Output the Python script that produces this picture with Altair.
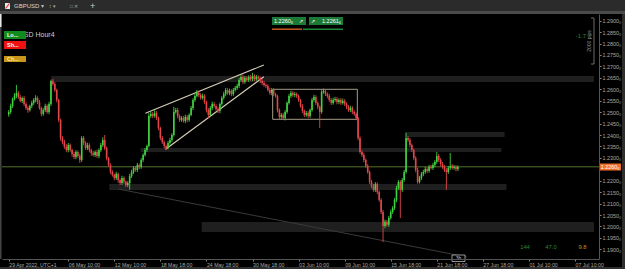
import altair as alt
import pandas as pd

# ---------------- data ----------------
BASE = 1.2
FIRST_OPEN = 490  # pips above 1.2000
CLOSE_PIPS = [
    501, 527, 558, 571, 584, 566, 549, 562, 536, 518, 509, 527, 540, 553, 562, 544, 518, 492, 509, 527,
    501, 536, 636, 623, 597, 553, 466, 387, 369, 348, 334, 356, 334, 317, 304, 326, 308, 291, 387, 365,
    343, 356, 334, 321, 313, 326, 308, 334, 356, 378, 343, 299, 269, 238, 225, 212, 230, 203, 190, 212,
    195, 181, 190, 221, 238, 256, 247, 269, 260, 291, 313, 334, 352, 483, 492, 483, 496, 474, 431, 387,
    369, 352, 343, 365, 378, 400, 501, 509, 483, 466, 474, 461, 479, 466, 488, 518, 553, 571, 584, 575,
    562, 571, 544, 509, 488, 518, 536, 527, 514, 505, 536, 562, 579, 597, 584, 593, 579, 597, 606, 614,
    641, 654, 632, 649, 641, 654, 645, 658, 645, 654, 649, 636, 628, 619, 614, 597, 584, 597, 579, 571,
    509, 479, 488, 474, 501, 540, 571, 584, 575, 579, 571, 553, 527, 505, 488, 496, 483, 509, 553, 566,
    540, 523, 501, 588, 593, 579, 571, 553, 540, 553, 558, 544, 553, 540, 549, 536, 523, 509, 518, 501,
    492, 474, 387, 326, 313, 291, 265, 238, 195, 177, 160, 186, 151, 116, 63, 2, 20, 7, 37, 63,
    81, 116, 168, 195, 160, 203, 238, 387, 378, 356, 334, 299, 247, 195, 212, 230, 238, 251, 243, 260,
    256, 269, 282, 308, 291, 273, 260, 247, 238, 256, 265, 256, 260, 251, 260,
]
WICK_UP = [
    8, 10, 6, 12, 35, 8, 10, 6, 9, 7, 8, 6, 10, 8, 12, 7, 9, 6, 8, 10,
    7, 9, 6, 10, 8, 6, 5, 6, 8, 10, 12, 9, 7, 6, 9, 8, 6, 10, 8, 9,
    7, 10, 8, 6, 9, 7, 10, 8, 9, 12, 22, 6, 5, 7, 8, 6, 9, 5, 6, 10,
    7, 6, 8, 9, 10, 7, 8, 9, 6, 8, 7, 9, 6, 13, 10, 8, 12, 9, 6, 5,
    8, 7, 6, 9, 10, 8, 22, 9, 10, 7, 8, 9, 10, 8, 7, 9, 8, 10, 13, 9,
    8, 10, 7, 6, 8, 9, 10, 8, 7, 9, 6, 8, 10, 9, 8, 10, 7, 9, 8, 10,
    9, 8, 10, 9, 8, 7, 9, 14, 8, 9, 7, 6, 8, 9, 7, 8, 10, 9, 8, 6,
    5, 7, 8, 9, 8, 7, 9, 10, 8, 9, 7, 6, 5, 8, 7, 9, 8, 7, 9, 10,
    8, 7, 6, 9, 10, 8, 7, 9, 8, 10, 9, 8, 7, 9, 10, 8, 7, 8, 9, 8,
    7, 6, 5, 8, 7, 9, 6, 8, 7, 9, 10, 8, 7, 6, 8, 9, 10, 8, 9, 10,
    8, 9, 10, 8, 7, 9, 10, 22, 8, 9, 7, 6, 8, 10, 9, 8, 10, 9, 8, 9,
    10, 9, 8, 18, 9, 8, 10, 9, 8, 9, 56, 8, 9, 8, 7,
]
WICK_DN = [
    10, 8, 9, 7, 10, 8, 6, 9, 10, 8, 12, 7, 9, 8, 10, 9, 7, 10, 8, 9,
    8, 10, 9, 7, 8, 10, 9, 12, 10, 8, 9, 10, 8, 12, 9, 10, 8, 13, 9, 10,
    8, 9, 10, 12, 7, 9, 8, 10, 9, 8, 9, 10, 8, 9, 7, 10, 8, 12, 9, 8,
    10, 9, 8, 30, 9, 8, 7, 9, 10, 8, 9, 7, 8, 6, 8, 9, 7, 8, 10, 9,
    8, 10, 9, 4, 8, 9, 7, 8, 10, 9, 8, 7, 9, 10, 8, 6, 9, 8, 7, 9,
    8, 7, 9, 10, 14, 8, 9, 7, 8, 9, 10, 8, 7, 9, 8, 10, 9, 8, 7, 9,
    8, 9, 10, 8, 7, 9, 8, 10, 9, 7, 8, 9, 10, 8, 9, 7, 8, 10, 9, 8,
    10, 13, 8, 9, 10, 8, 7, 9, 8, 10, 9, 8, 7, 9, 10, 8, 9, 8, 7, 8,
    9, 10, 70, 8, 7, 9, 10, 8, 9, 7, 8, 10, 9, 8, 7, 9, 10, 8, 9, 10,
    8, 9, 10, 8, 9, 10, 8, 7, 9, 10, 8, 9, 10, 8, 9, 70, 10, 8, 9, 7,
    8, 9, 10, 8, 123, 9, 8, 7, 9, 10, 8, 9, 10, 8, 7, 9, 10, 8, 9, 8,
    7, 9, 10, 8, 9, 10, 8, 9, 78, 8, 9, 7, 8, 10, 9,
]

TICK_IDX = [0, 31, 55, 79, 103, 127, 151, 175, 199, 223, 247, 271, 295]
TICK_LABELS = ["29 Apr 2022, UTC+1", "06 May 10:00", "12 May 10:00", "18 May 18:00",
               "24 May 18:00", "30 May 18:00", "03 Jun 10:00", "09 Jun 10:00",
               "15 Jun 18:00", "21 Jun 18:00", "27 Jun 18:00", "01 Jul 10:00", "07 Jul 10:00"]
# 1.2250 is hidden behind the current-price tag in the reference
PRICE_TICKS = [1.1900, 1.1950, 1.2000, 1.2050, 1.2100, 1.2150, 1.2200, 1.2300, 1.2350,
               1.2400, 1.2450, 1.2500, 1.2550, 1.2600, 1.2650, 1.2700, 1.2750, 1.2800, 1.2850, 1.2900]
CURRENT_PRICE = 1.22608

ZONE_START = [22.1, 68.7, 206.5, 52.4, 100.5]
ZONE_END = [304.9, 256.7, 258.3, 259.3, 304.9]
ZONE_TOP = [1.26581, 1.23431, 1.24131, 1.21856, 1.20194]
ZONE_BOTTOM = [1.26318, 1.23256, 1.23913, 1.21594, 1.19757]

WEDGE_X1 = [71.2, 81.7]
WEDGE_Y1 = [1.24949, 1.23374]
WEDGE_X2 = [132.9, 132.9]
WEDGE_Y2 = [1.27062, 1.26550]

BOX_X = [137.5, 181.6]
BOX_Y = [1.24687, 1.25999]

TREND_X = [57.0, 238.8]
TREND_Y = [1.21638, 1.18663]

# ---------------- build table ----------------
rows = []
prev = FIRST_OPEN
for i, c in enumerate(CLOSE_PIPS):
    o = prev
    hi = max(o, c) + WICK_UP[i]
    lo = min(o, c) - WICK_DN[i]
    rows.append({"i": i, "open": BASE + o / 1e4, "close": BASE + c / 1e4,
                 "high": BASE + hi / 1e4, "low": BASE + lo / 1e4,
                 "dir": "up" if c >= o else "down"})
    prev = c
df = pd.DataFrame(rows)

GREEN = "#41d141"
RED = "#e2464b"
X_SCALE = alt.Scale(domain=[-0.91, 304.9], nice=False, zero=False)
Y_SCALE = alt.Scale(domain=[1.18576, 1.29293], nice=False, zero=False)
FONT = "Liberation Sans"

label_expr = ("[" + ",".join("'%s'" % s for s in TICK_LABELS) + "][indexof(["
              + ",".join(str(v) for v in TICK_IDX) + "], datum.value)]")

x_axis = alt.Axis(values=TICK_IDX, labelExpr=label_expr, orient="bottom", labelAlign="left",
                  labelBaseline="top", labelPadding=1, tickSize=2, labelFontSize=5.2, labelFont=FONT,
                  labelColor="#a8a8a8", domainColor="#555555", tickColor="#8a8a8a", grid=False,
                  labelOverlap=False, labelFlush=False, title=None, zindex=1)
y_axis = alt.Axis(values=PRICE_TICKS, labelExpr="format(datum.value, '.4f') + '\u2080'", orient="right",
                  labelFontSize=5.4, labelFont=FONT, labelColor="#a8a8a8", domainColor="#555555",
                  tickColor="#8a8a8a", tickSize=2, labelPadding=1, grid=False, labelOverlap=False,
                  labelFlush=False, title=None, zindex=1)


def XQ(field):
    return alt.X(field, type="quantitative", scale=X_SCALE, axis=x_axis)


def YQ(field):
    return alt.Y(field, type="quantitative", scale=Y_SCALE, axis=y_axis)


color_enc = alt.Color("dir:N", scale=alt.Scale(domain=["up", "down"], range=[GREEN, RED]), legend=None)

zones_df = pd.DataFrame({"x1": ZONE_START, "x2": ZONE_END, "y1": ZONE_TOP, "y2": ZONE_BOTTOM})
zones = alt.Chart(zones_df).mark_rect(color="#1f1f1f", clip=True).encode(
    x=XQ("x1"), x2="x2:Q", y=YQ("y1"), y2="y2:Q")

trend_df = pd.DataFrame({"x1": [TREND_X[0]], "x2": [TREND_X[1]], "y1": [TREND_Y[0]], "y2": [TREND_Y[1]]})
trend = alt.Chart(trend_df).mark_rule(color="#3a3a3a", strokeWidth=1).encode(
    x=XQ("x1"), x2="x2:Q", y=YQ("y1"), y2="y2:Q")

wedge_df = pd.DataFrame({"x1": WEDGE_X1, "x2": WEDGE_X2, "y1": WEDGE_Y1, "y2": WEDGE_Y2})
wedge = alt.Chart(wedge_df).mark_rule(color="#d6ceb6", strokeWidth=1.1).encode(
    x=XQ("x1"), x2="x2:Q", y=YQ("y1"), y2="y2:Q")

box_df = pd.DataFrame({"x1": [BOX_X[0]], "x2": [BOX_X[1]], "y1": [BOX_Y[0]], "y2": [BOX_Y[1]]})
box = alt.Chart(box_df).mark_rect(fillOpacity=0, stroke="#a59d88", strokeWidth=1).encode(
    x=XQ("x1"), x2="x2:Q", y=YQ("y1"), y2="y2:Q")

price_line = alt.Chart(pd.DataFrame({"p": [CURRENT_PRICE]})).mark_rule(
    color="#55702c", strokeWidth=1).encode(y=YQ("p"))

wicks = alt.Chart(df).mark_rule(strokeWidth=0.9).encode(
    x=XQ("i"), y=YQ("low"), y2="high:Q", color=color_enc)
bodies = alt.Chart(df).mark_bar(size=1.6).encode(
    x=XQ("i"), y=YQ("open"), y2="close:Q", color=color_enc)

# ---------------- terminal decoration (pixel positions) ----------------
OX, OY = 2, 14
ONE = pd.DataFrame({"k": [0]})


def ui_rect(x1, y1, x2, y2, fill, stroke=None):
    if stroke:
        m = alt.Chart(ONE).mark_rect(fill=fill, stroke=stroke, strokeWidth=0.8)
    else:
        m = alt.Chart(ONE).mark_rect(fill=fill)
    return m.encode(x=alt.value(x1 - OX), x2=alt.value(x2 - OX), y=alt.value(y1 - OY), y2=alt.value(y2 - OY))


def ui_line(x1, y1, x2, y2, color, w=1.0):
    return alt.Chart(ONE).mark_rule(color=color, strokeWidth=w).encode(
        x=alt.value(x1 - OX), x2=alt.value(x2 - OX), y=alt.value(y1 - OY), y2=alt.value(y2 - OY))


def ui_text(t, x, y, color, size, align="left", angle=0, weight="normal"):
    kw = dict(text=t, color=color, fontSize=size, align=align, baseline="middle", font=FONT, fontWeight=weight)
    if angle:
        kw["angle"] = angle
    return alt.Chart(ONE).mark_text(**kw).encode(x=alt.value(x - OX), y=alt.value(y - OY))


ui = [
    ui_rect(0, 0, 625, 11, "#2b2b2b"),
    ui_rect(0, 11, 625, 14, "#4a4a4a"),
    ui_rect(0, 14, 1.5, 259, "#444444"),
    ui_rect(0, 14, 1.5, 27, "#e6e6e6"),
    ui_rect(622, 14, 625, 269, "#2e2e2e"),
    ui_rect(0, 267, 625, 269, "#2e2e2e"),
    ui_rect(5, 3, 10, 9, "#e8e8e8"),
    ui_line(5.5, 8.5, 9.5, 3.5, "#e03030", 1.2),
    ui_text("GBPUSD", 14, 6, "#d6d6d6", 6),
    ui_text("\u25be", 41, 6, "#bbbbbb", 6),
    ui_text("\u2195 \u25be", 49, 6, "#aaaaaa", 5),
    ui_text("\u25a1 \u2715", 70, 6, "#aaaaaa", 5),
    ui_text("+", 90, 6, "#cccccc", 9),
    ui_text("GBPUSD Hour4", 4, 35, "#cfcfcf", 7),
    ui_rect(4, 31, 26, 39, "#118a1e"),
    ui_rect(4, 41, 26, 49, "#f01212"),
    ui_rect(4, 56, 26, 62, "#c8961a"),
    ui_text("Lo...", 7, 35, "#ffffff", 5.5, weight="bold"),
    ui_text("Sh...", 7, 45, "#ffffff", 5.5, weight="bold"),
    ui_text("Ch...", 7, 59, "#f6e7b0", 5.5, weight="bold"),
    ui_rect(272, 17, 306, 25, "#1c7a38"),
    ui_rect(309, 17, 343, 25, "#1c7a38"),
    ui_text("1.2260\u2088", 274, 21, "#ffffff", 5.5),
    ui_text("\u2197", 301, 21, "#ffffff", 5, align="center"),
    ui_text("\u2197", 313, 21, "#ffffff", 5, align="center"),
    ui_text("1.2261\u2086", 322, 21, "#ffffff", 5.5),
    ui_line(272, 29.2, 302, 29.2, "#b8561e", 1.6),
    ui_line(303, 29.2, 343, 29.2, "#1c8a3c", 1.6),
    ui_text("-1.7", 581, 36, "#2a8a3a", 6, align="center"),
    ui_line(594, 18, 594, 64, "#888888", 0.8),
    ui_line(591, 18, 594, 18, "#888888", 0.8),
    ui_line(591, 64, 594, 64, "#888888", 0.8),
    ui_text("2000 pips", 589, 41, "#9a9a9a", 5, align="center", angle=270),
    ui_text("144", 525, 247, "#2a8a3a", 5.8, align="center"),
    ui_text("47.0", 551, 247, "#2a8a3a", 5.8, align="center"),
    ui_text("9.8", 582.5, 247, "#c88a1a", 5.8, align="center"),
    ui_rect(452, 255, 465, 261.5, "#000000", stroke="#bbbbbb"),
    ui_text("3h", 458.5, 258.3, "#cccccc", 5, align="center"),
    ui_rect(599, 163.5, 621, 170.5, "#ee6e2c"),
    ui_text("1.2260\u2088", 610, 167, "#ffffff", 5.4, align="center"),
]

chart = alt.layer(zones, trend, wedge, box, price_line, wicks, bodies, *ui).properties(
    width=597, height=245,
    padding={"left": 2, "top": 14, "right": 26, "bottom": 10},
    autosize=alt.AutoSizeParams(type="none"),
    background="#000000",
).configure_view(stroke=None)

chart.save("out.html", embed_options={"renderer": "svg", "actions": False})
